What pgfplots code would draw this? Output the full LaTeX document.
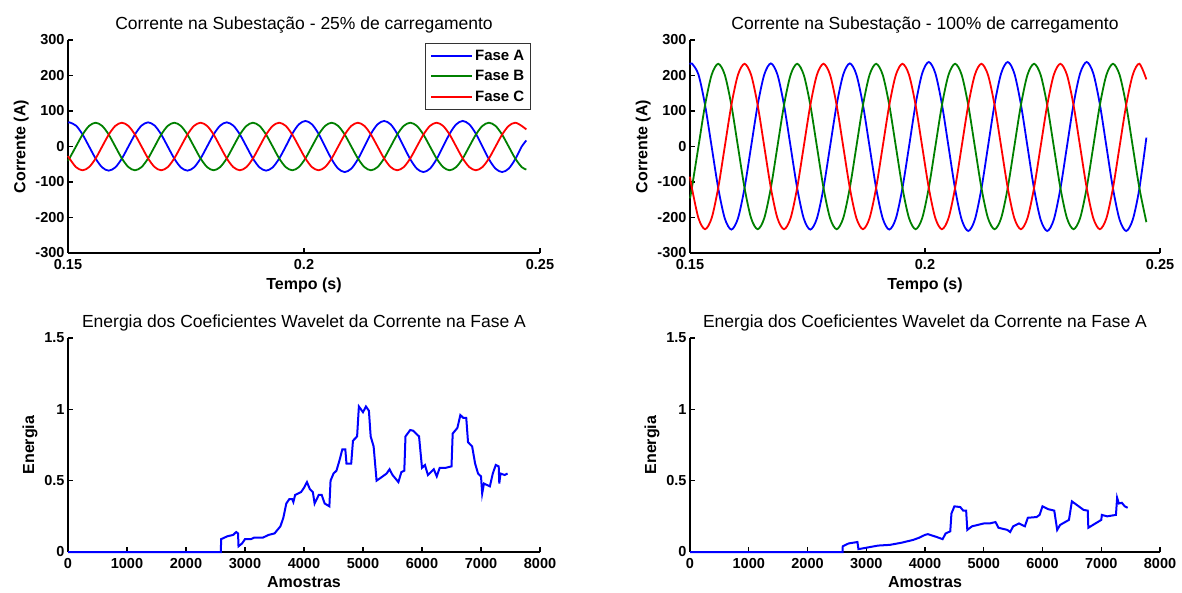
\documentclass[border=0pt]{standalone}
\usepackage{fontspec}
\setmainfont{Liberation Sans}
\usepackage{pgfplots}
\usepackage{pgfplotstable}
\pgfplotsset{compat=1.18}
\definecolor{mblue}{rgb}{0,0,1}
\definecolor{mgreen}{rgb}{0,0.5,0}
\definecolor{mred}{rgb}{1,0,0}

\pgfplotstableread{
t A B C
0.15000 67.5 -40 -27
0.15030 68 -33.5 -33.5
0.15169 58.9 0 -58
0.15308 34 33.5 -67
0.15447 0 58 -58
0.15586 -34 67 -33.5
0.15724 -58.9 58 0
0.15863 -68 33.5 33.5
0.16002 -58.9 0 58
0.16141 -34 -33.5 67
0.16280 0 -58 58
0.16419 34 -67 33.5
0.16558 58.9 -58 0
0.16697 68 -33.5 -33.5
0.16836 58.9 0 -58
0.16974 34 33.5 -67
0.17113 0 58 -58
0.17252 -34 67 -33.5
0.17391 -58.9 58 0
0.17530 -68 33.5 33.5
0.17669 -58.9 0 58
0.17808 -34 -33.5 67
0.17947 0 -58 58
0.18086 34 -67 33.5
0.18224 58.9 -58 0
0.18363 68 -33.5 -33.5
0.18502 58.9 0 -58
0.18641 34 33.5 -67
0.18780 0 58 -58
0.18919 -34 67 -33.5
0.19058 -58.9 58 0
0.19197 -68 33.5 33.5
0.19336 -58.9 0 58
0.19474 -34 -33.5 67
0.19613 0 -58 58
0.19752 36 -67 33.5
0.19891 62.4 -58 0
0.20030 72 -33.5 -33.5
0.20169 62.4 0 -58
0.20308 36 33.5 -67
0.20447 0 58 -58
0.20586 -36 67 -33.5
0.20724 -62.4 58 0
0.20863 -72 33.5 33.5
0.21002 -62.4 0 58
0.21141 -36 -33.5 67
0.21280 0 -58 58
0.21419 36 -67 33.5
0.21558 62.4 -58 0
0.21697 72 -33.5 -33.5
0.21836 62.4 0 -58
0.21974 36 33.5 -67
0.22113 0 58 -58
0.22252 -36 67 -33.5
0.22391 -62.4 58 0
0.22530 -72 33.5 33.5
0.22669 -62.4 0 58
0.22808 -36 -33.5 67
0.22947 0 -58 58
0.23086 36 -67 33.5
0.23224 62.4 -58 0
0.23363 72 -33.5 -33.5
0.23502 62.4 0 -58
0.23641 36 33.5 -67
0.23780 0 58 -58
0.23919 -36 67 -33.5
0.24058 -62.4 58 0
0.24197 -72 33.5 33.5
0.24336 -62.4 0 58
0.24474 -36 -33.5 67
0.24613 0 -58 58
0.24710 17 -65 48
}\leftdata

\pgfplotstableread{
t A B C
0.1500 231 -146 -85
0.1504 234 -116.5 -116.5
0.1518 202.6 0 -201.8
0.1532 117 116.5 -233
0.1546 0 201.8 -201.8
0.1560 -117 233 -116.5
0.1574 -202.6 201.8 0
0.1588 -234 116.5 116.5
0.1602 -202.6 0 201.8
0.1616 -117 -116.5 233
0.1630 0 -201.8 201.8
0.1644 117 -233 116.5
0.1658 202.6 -201.8 0
0.1672 234 -116.5 -116.5
0.1686 202.6 0 -201.8
0.1700 117 116.5 -233
0.1714 0 201.8 -201.8
0.1728 -117 233 -116.5
0.1742 -202.6 201.8 0
0.1756 -234 116.5 116.5
0.1770 -202.6 0 201.8
0.1784 -117 -116.5 233
0.1798 0 -201.8 201.8
0.1812 117 -233 116.5
0.1826 202.6 -201.8 0
0.1840 234 -116.5 -116.5
0.1854 202.6 0 -201.8
0.1868 117 116.5 -233
0.1882 0 201.8 -201.8
0.1896 -117 233 -116.5
0.1910 -202.6 201.8 0
0.1924 -234 116.5 116.5
0.1938 -202.6 0 201.8
0.1952 -117 -116.5 233
0.1966 0 -201.8 201.8
0.1980 119 -233 116.5
0.1994 206.1 -201.8 0
0.2008 238 -116.5 -116.5
0.2022 206.1 0 -201.8
0.2036 119 116.5 -233
0.2050 0 201.8 -201.8
0.2064 -119 233 -116.5
0.2078 -206.1 201.8 0
0.2092 -238 116.5 116.5
0.2106 -206.1 0 201.8
0.2120 -119 -116.5 233
0.2134 0 -201.8 201.8
0.2148 119 -233 116.5
0.2162 206.1 -201.8 0
0.2176 238 -116.5 -116.5
0.2190 206.1 0 -201.8
0.2204 119 116.5 -233
0.2218 0 201.8 -201.8
0.2232 -119 233 -116.5
0.2246 -206.1 201.8 0
0.2260 -238 116.5 116.5
0.2274 -206.1 0 201.8
0.2288 -119 -116.5 233
0.2302 0 -201.8 201.8
0.2316 119 -233 116.5
0.2330 206.1 -201.8 0
0.2344 238 -116.5 -116.5
0.2358 206.1 0 -201.8
0.2372 119 116.5 -233
0.2386 0 201.8 -201.8
0.2400 -119 233 -116.5
0.2414 -206.1 201.8 0
0.2428 -238 116.5 116.5
0.2442 -206.1 0 201.8
0.2456 -119 -116.5 233
0.2471 25 -213 189
}\rightdata

\pgfplotsset{
  mstyle/.style={
    scale only axis,
    axis lines=left,
    axis line style={-, line width=1.3pt, black},
    tick align=inside,
    major tick length=5pt,
    tick style={line width=1.1pt, black},
    every tick label/.append style={font=\bfseries\fontsize{14.5}{14.5}\selectfont},
    xticklabel style={yshift=-3pt},
    label style={font=\bfseries\fontsize{16}{16}\selectfont},
    xlabel style={yshift=-1pt},
    title style={font=\fontsize{17.5}{17.5}\selectfont, yshift=-3pt},
    clip=false,
  },
  sine/.style={scale only axis, height=213pt,
    xmin=0.15, xmax=0.25, ymin=-300, ymax=300,
    xtick={0.15,0.2,0.25}, xticklabels={0.15,0.2,0.25},
    ytick={-300,-200,-100,0,100,200,300},
    yticklabels={-300,-200,-100,0,100,200,300},
    xlabel={Tempo (s)}, ylabel={Corrente (A)},
  },
  energy/.style={scale only axis, height=214pt,
    xmin=0, xmax=8000, ymin=0, ymax=1.5,
    xtick={0,1000,...,8000}, xticklabels={0,1000,2000,3000,4000,5000,6000,7000,8000},
    ytick={0,0.5,1,1.5}, yticklabels={0,0.5,1,1.5},
    xlabel={Amostras}, ylabel={Energia},
    title={Energia dos Coeficientes Wavelet da Corrente na Fase A},
  },
}

\begin{document}
\begin{tikzpicture}[x=1pt,y=1pt]
\path[use as bounding box] (0,0) rectangle (1182,592);

% top-left
\begin{axis}[mstyle, sine, at={(68pt,339pt)}, anchor=south west, width=472pt,
  title={Corrente na Subestação - 25\% de carregamento},
  legend style={at={(0.981,0.986)}, anchor=north east, draw=black!80, thick,
    font=\bfseries\fontsize{15}{15}\selectfont, row sep=5.2pt, inner sep=4.5pt,
    nodes={inner sep=1.8pt}},
  legend cell align=left,
  legend image code/.code={\draw[#1] (0pt,0pt) -- (41pt,0pt);}]
\addlegendimage{mblue, line width=2pt}
\addlegendentry{Fase A}
\addlegendimage{mgreen, line width=2pt}
\addlegendentry{Fase B}
\addlegendimage{mred, line width=2.4pt}
\addlegendentry{Fase C}
\addplot[mblue, line width=1.8pt, smooth, forget plot] table[x=t, y=A] {\leftdata};
\addplot[mgreen, line width=1.8pt, smooth, forget plot] table[x=t, y=B] {\leftdata};
\addplot[mred, line width=1.8pt, smooth, forget plot] table[x=t, y=C] {\leftdata};
\end{axis}

% top-right
\begin{axis}[mstyle, sine, at={(690pt,339pt)}, anchor=south west, width=470pt,
  title={Corrente na Subestação - 100\% de carregamento}]
\addplot[mblue, line width=1.8pt, smooth] table[x=t, y=A] {\rightdata};
\addplot[mgreen, line width=1.8pt, smooth] table[x=t, y=B] {\rightdata};
\addplot[mred, line width=1.8pt, smooth] table[x=t, y=C] {\rightdata};
\end{axis}

% bottom-left
\begin{axis}[mstyle, energy, at={(68pt,40pt)}, anchor=south west, width=472pt]
\addplot[mblue, line width=2pt] coordinates {
(0,0) (2591,0) (2595,0.09) (2700,0.11) (2800,0.12) (2850,0.14) (2882,0.13) (2890,0.04)
(2950,0.06) (3000,0.09) (3100,0.09) (3150,0.10) (3200,0.10) (3300,0.10) (3350,0.11) (3400,0.12) (3500,0.13)
(3600,0.18) (3650,0.24) (3700,0.34) (3750,0.37) (3800,0.37) (3820,0.35) (3850,0.40) (3950,0.42)
(4000,0.45) (4050,0.49) (4100,0.44) (4150,0.42) (4180,0.34) (4250,0.40) (4300,0.40)
(4350,0.34) (4430,0.32) (4450,0.50) (4500,0.55) (4550,0.57) (4600,0.64) (4650,0.72)
(4700,0.72) (4720,0.62) (4800,0.62) (4830,0.78) (4900,0.81) (4930,1.02) (5000,0.98)
(5050,1.02) (5100,0.99) (5130,0.81) (5180,0.74) (5230,0.50) (5300,0.52) (5400,0.55)
(5450,0.58) (5500,0.54) (5600,0.49) (5650,0.56) (5700,0.57) (5720,0.81) (5800,0.855)
(5850,0.85) (5950,0.81) (6000,0.59) (6050,0.61) (6100,0.54) (6200,0.58) (6250,0.53)
(6300,0.59) (6400,0.59) (6500,0.60) (6520,0.83) (6600,0.87) (6650,0.96) (6700,0.94)
(6750,0.94) (6780,0.77) (6850,0.74) (6900,0.62) (6950,0.55) (7000,0.53) (7020,0.41)
(7050,0.48) (7150,0.46) (7200,0.55) (7250,0.61) (7300,0.60) (7310,0.48) (7330,0.55)
(7400,0.54) (7450,0.55)
};
\end{axis}

% bottom-right
\begin{axis}[mstyle, energy, at={(690pt,40pt)}, anchor=south west, width=470pt]
\addplot[mblue, line width=2pt] coordinates {
(0,0) (2597,0) (2600,0.04) (2700,0.06) (2850,0.07) (2867,0.02) (3000,0.03) (3200,0.045)
(3400,0.05) (3600,0.065) (3800,0.085) (3900,0.10) (4000,0.12) (4050,0.125) (4200,0.105)
(4300,0.09) (4350,0.13) (4430,0.145) (4450,0.27) (4500,0.32) (4600,0.315) (4650,0.29)
(4700,0.29) (4720,0.155) (4800,0.18) (4900,0.19) (5000,0.20) (5100,0.20) (5200,0.21)
(5250,0.17) (5400,0.155) (5450,0.14) (5500,0.18) (5600,0.20) (5700,0.18) (5750,0.24)
(5900,0.245) (5950,0.26) (6000,0.32) (6100,0.30) (6200,0.29) (6250,0.155) (6300,0.19)
(6450,0.225) (6500,0.355) (6550,0.34) (6700,0.295) (6770,0.29) (6780,0.17) (6900,0.20)
(7000,0.225) (7010,0.26) (7100,0.25) (7250,0.26) (7270,0.38) (7300,0.34) (7350,0.345)
(7400,0.32) (7450,0.31)
};
\end{axis}
\end{tikzpicture}
\end{document}
